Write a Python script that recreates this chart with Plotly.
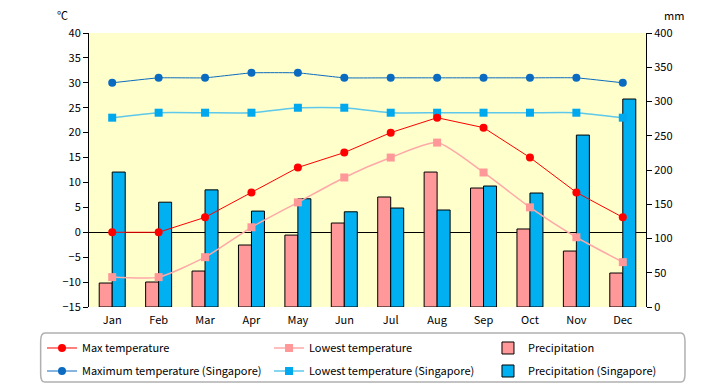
import plotly.graph_objects as go

months = ["Jan", "Feb", "Mar", "Apr", "May", "Jun", "Jul", "Aug", "Sep", "Oct", "Nov", "Dec"]
max_temp = [0, 0, 3, 8, 13, 16, 20, 23, 21, 15, 8, 3]
low_temp = [-9, -9, -5, 1, 6, 11, 15, 18, 12, 5, -1, -6]
precip = [35, 36.5, 52.5, 90.5, 105, 122.6, 160.6, 197, 173.7, 113.9, 81.7, 49.6]
sg_max = [30, 31, 31, 32, 32, 31, 31, 31, 31, 31, 31, 30]
sg_low = [23, 24, 24, 24, 25, 25, 24, 24, 24, 24, 24, 23]
sg_precip = [197, 153, 171, 140, 158, 139, 144.5, 141.6, 176.6, 166.4, 251, 303.6]
temp_ticks = list(range(-15, 41, 5))
mm_ticks = list(range(0, 401, 50))

FONT = "Noto Sans CJK JP, Liberation Sans, sans-serif"

fig = go.Figure()
fig.add_trace(go.Bar(x=months, y=precip, name="Precipitation", yaxis="y",
                     marker=dict(color="#FF9999", line=dict(color="black", width=1)),
                     legend="legend3"))
fig.add_trace(go.Bar(x=months, y=sg_precip, name="Precipitation (Singapore)", yaxis="y",
                     marker=dict(color="#00B0F0", line=dict(color="black", width=1)),
                     legend="legend6"))
fig.add_trace(go.Scatter(x=months, y=sg_max, name="Maximum temperature (Singapore)", yaxis="y2",
                         mode="lines+markers", line=dict(color="#0A6BC0", width=1, shape="spline", smoothing=0.3),
                         marker=dict(symbol="circle", size=8, color="#0A6BC0"),
                         legend="legend4"))
fig.add_trace(go.Scatter(x=months, y=sg_low, name="Lowest temperature (Singapore)", yaxis="y2",
                         mode="lines+markers", line=dict(color="#5CC8EC", width=1.5, shape="spline", smoothing=0.5),
                         marker=dict(symbol="square", size=8, color="#00A8EE"),
                         legend="legend5"))
fig.add_trace(go.Scatter(x=months, y=max_temp, name="Max temperature", yaxis="y2",
                         mode="lines+markers", line=dict(color="#FF0000", width=1),
                         marker=dict(symbol="circle", size=8, color="#FF0000"),
                         legend="legend"))
fig.add_trace(go.Scatter(x=months, y=low_temp, name="Lowest temperature", yaxis="y2",
                         mode="lines+markers", line=dict(color="#FFA8A8", width=1.5, shape="spline", smoothing=0.6),
                         marker=dict(symbol="square", size=8, color="#FF9999"),
                         legend="legend2"))

lg = dict(orientation="v", xanchor="left", yanchor="middle", font=dict(size=11),
          bgcolor="rgba(0,0,0,0)", borderwidth=0, itemclick=False, itemdoubleclick=False)
col_x = [-0.0844, 0.3232, 0.7163]
row_y = [-0.1496, -0.2336]

fig.update_layout(
    width=720, height=385,
    margin=dict(l=89, r=74, t=33, b=78, autoexpand=False),
    paper_bgcolor="white",
    plot_bgcolor="#FFFFCC",
    font=dict(family=FONT, size=11, color="black"),
    barmode="group", bargap=0.44, bargroupgap=0,
    showlegend=True,
    legend=dict(x=col_x[0], y=row_y[0], **lg),
    legend2=dict(x=col_x[1], y=row_y[0], **lg),
    legend3=dict(x=col_x[2], y=row_y[0], **lg),
    legend4=dict(x=col_x[0], y=row_y[1], **lg),
    legend5=dict(x=col_x[1], y=row_y[1], **lg),
    legend6=dict(x=col_x[2], y=row_y[1], **lg),
    xaxis=dict(range=[-0.5, 11.5], showline=False, showgrid=False, ticks="", ticklabelstandoff=5,
               tickfont=dict(size=11)),
    yaxis=dict(side="right", range=[0, 400], tickvals=mm_ticks, showgrid=False, zeroline=False,
               showline=True, linecolor="black", linewidth=1, ticks="outside", ticklen=5,
               tickcolor="black", tickfont=dict(size=11)),
    yaxis2=dict(side="left", overlaying="y", range=[-15, 40], tickvals=temp_ticks, showgrid=False,
                zeroline=True, zerolinecolor="black", zerolinewidth=1,
                showline=True, linecolor="black", linewidth=1, ticks="outside", ticklen=5,
                tickcolor="black", tickfont=dict(size=11)),
    annotations=[
        dict(text="℃", xref="paper", yref="paper", x=-0.047, y=1.03, xanchor="center", yanchor="bottom",
             showarrow=False, font=dict(size=11)),
        dict(text="mm", xref="paper", yref="paper", x=1.05, y=1.03, xanchor="center", yanchor="bottom",
             showarrow=False, font=dict(size=11)),
    ],
    shapes=[
        dict(type="path", xref="paper", yref="paper", layer="below",
             path="M -0.0790,-0.095 L 1.0622,-0.095 Q 1.0700,-0.095 1.0700,-0.125 L 1.0700,-0.245 "
                  "Q 1.0700,-0.2737 1.0622,-0.2737 L -0.0790,-0.2737 Q -0.0868,-0.2737 -0.0868,-0.245 "
                  "L -0.0868,-0.125 Q -0.0868,-0.095 -0.0790,-0.095 Z",
             line=dict(color="#B0B0B0", width=1.5), fillcolor="white"),
    ],
)

fig.write_html("out.html", config={"displayModeBar": False},
               post_script="document.body.style.margin='0';document.body.style.overflow='hidden';")
